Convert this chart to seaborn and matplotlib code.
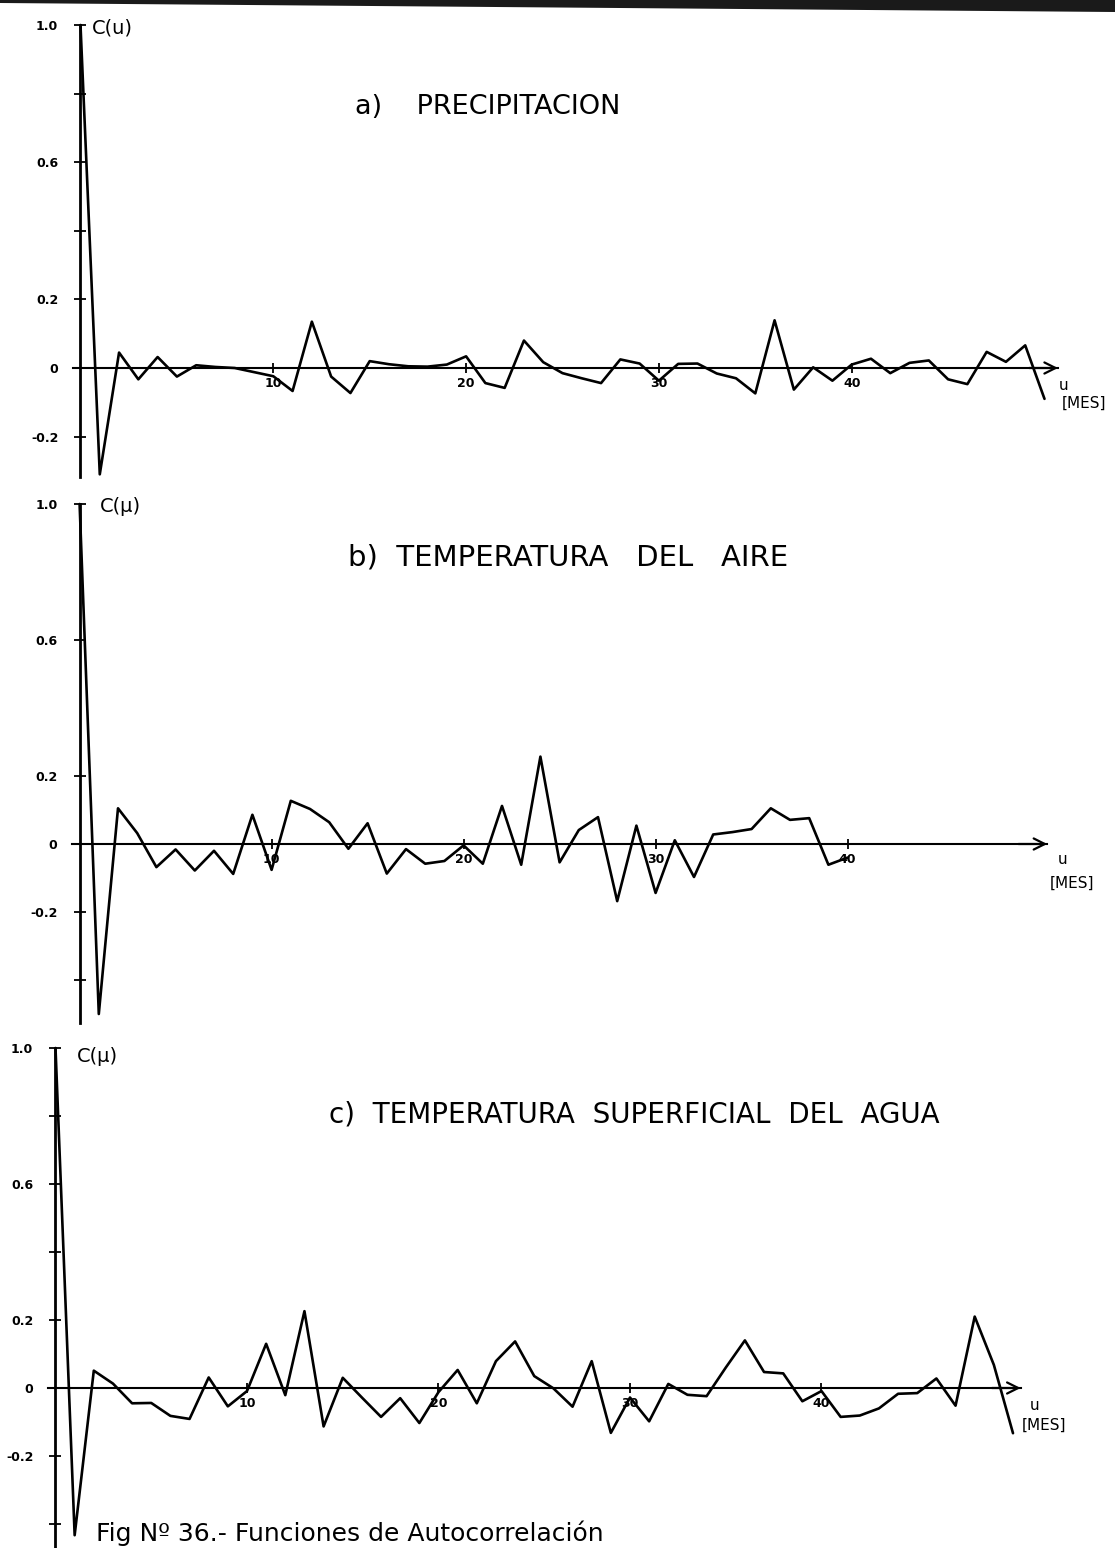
import matplotlib
matplotlib.use("Agg")
import matplotlib.pyplot as plt
from matplotlib.patches import Polygon
import seaborn as sns

# Autocorrelation C(u) by lag u (months)
lags_a = list(range(51))
precipitacion = [1.0, -0.31, 0.045, -0.033, 0.032, -0.025, 0.008, 0.003, 0.0, -0.012,
                 -0.024, -0.067, 0.135, -0.025, -0.073, 0.02, 0.011, 0.005, 0.004, 0.01,
                 0.034, -0.044, -0.058, 0.08, 0.017, -0.015, -0.03, -0.044, 0.025, 0.013,
                 -0.037, 0.012, 0.013, -0.016, -0.03, -0.074, 0.139, -0.063, 0.002, -0.037,
                 0.01, 0.027, -0.015, 0.015, 0.022, -0.033, -0.047, 0.047, 0.018, 0.066,
                 -0.09]

lags_b = list(range(41))
temp_aire = [1.0, -0.50, 0.105, 0.032, -0.068, -0.016, -0.078, -0.02, -0.088, 0.086,
             -0.076, 0.127, 0.103, 0.064, -0.014, 0.061, -0.087, -0.015, -0.058, -0.05,
             -0.004, -0.058, 0.112, -0.061, 0.257, -0.054, 0.041, 0.079, -0.168, 0.054,
             -0.144, 0.011, -0.097, 0.028, 0.035, 0.044, 0.105, 0.071, 0.076, -0.061,
             -0.04]

lags_c = list(range(51))
temp_agua = [1.0, -0.433, 0.051, 0.013, -0.045, -0.044, -0.082, -0.091, 0.031, -0.054,
             -0.009, 0.13, -0.021, 0.226, -0.113, 0.03, -0.028, -0.085, -0.03, -0.103,
             -0.012, 0.053, -0.045, 0.079, 0.137, 0.035, -0.001, -0.055, 0.079, -0.132,
             -0.028, -0.098, 0.012, -0.02, -0.024, 0.06, 0.14, 0.047, 0.043, -0.039,
             -0.009, -0.085, -0.081, -0.06, -0.017, -0.015, 0.028, -0.052, 0.21, 0.068,
             -0.133]

x_ticks = [10, 20, 30, 40]
x_tick_labels = ["10", "20", "30", "40"]

titles = ["a)    PRECIPITACION",
          "b)  TEMPERATURA   DEL   AIRE",
          "c)  TEMPERATURA  SUPERFICIAL  DEL  AGUA"]
caption = "Fig Nº 36.- Funciones de Autocorrelación"

W, H = 1115, 1548
sns.set_theme(style="white")
plt.rcParams["font.family"] = ["DejaVu Sans"]

fig = plt.figure(figsize=(W / 100, H / 100), dpi=100)
fig.patch.set_facecolor("white")

panels = [
    dict(x0=80.5, dx=19.28, z0=368, dy=343, xlim=(-4, 53.5), ylim=(-0.33, 1.05),
         low=-0.317, tip=50.7, lags=lags_a, vals=precipitacion,
         yticks=[1.0, 0.8, 0.6, 0.4, 0.2, 0, -0.2],
         ylabels=["1.0", "", "0.6", "", "0.2", "0", "-0.2"],
         title=titles[0], tpos=(14.24, 0.761), tsize=19.5,
         clab="C(u)", cpos=(0.6, 0.99),
         upos=(51.0, -0.05), mpos=(52.05, -0.102)),
    dict(x0=79.6, dx=19.2, z0=844, dy=340, xlim=(-4, 53.5), ylim=(-0.54, 1.05),
         low=-0.526, tip=50.4, lags=lags_b, vals=temp_aire,
         yticks=[1.0, 0.6, 0.2, 0, -0.2, -0.4],
         ylabels=["1.0", "0.6", "0.2", "0", "-0.2", ""],
         title=titles[1], tpos=(13.98, 0.844), tsize=21,
         clab="C(μ)", cpos=(1.06, 0.994),
         upos=(51.2, -0.047), mpos=(51.7, -0.115)),
    dict(x0=55.5, dx=19.15, z0=1388, dy=340, xlim=(-2.5, 55.5), ylim=(-0.47, 1.05),
         low=-0.47, tip=50.4, lags=lags_c, vals=temp_agua,
         yticks=[1.0, 0.8, 0.6, 0.4, 0.2, 0, -0.2, -0.4],
         ylabels=["1.0", "", "0.6", "", "0.2", "0", "-0.2", ""],
         title=titles[2], tpos=(14.28, 0.803), tsize=20,
         clab="C(μ)", cpos=(1.12, 0.974),
         upos=(51.1, -0.05), mpos=(51.6, -0.109)),
]

for p in panels:
    left = p["x0"] + p["dx"] * p["xlim"][0]
    right = p["x0"] + p["dx"] * p["xlim"][1]
    top = p["z0"] - p["dy"] * p["ylim"][1]
    bottom = p["z0"] - p["dy"] * p["ylim"][0]
    ax = fig.add_axes([left / W, 1 - bottom / H, (right - left) / W, (bottom - top) / H])
    ax.set_facecolor("none")
    ax.set_xlim(*p["xlim"])
    ax.set_ylim(*p["ylim"])

    sns.lineplot(x=p["lags"], y=p["vals"], ax=ax, color="black", linewidth=1.9,
                 estimator=None, sort=False)

    for s in ("top", "right"):
        ax.spines[s].set_visible(False)
    ax.spines["left"].set_position(("data", 0))
    ax.spines["left"].set_bounds(p["low"], 1.0)
    ax.spines["left"].set_linewidth(2.0)
    ax.spines["bottom"].set_position(("data", 0))
    ax.spines["bottom"].set_bounds(-0.4, p["tip"])
    ax.spines["bottom"].set_linewidth(1.5)
    for s in ("left", "bottom"):
        ax.spines[s].set_color("black")

    ax.set_yticks(p["yticks"], p["ylabels"])
    ax.set_xticks(x_ticks, x_tick_labels)
    ax.tick_params(axis="y", left=True, direction="inout", length=8, width=1.3,
                   pad=12, labelsize=9, colors="black")
    ax.tick_params(axis="x", bottom=True, direction="inout", length=7, width=1.3,
                   pad=3, labelsize=9, colors="black")
    for lab in ax.get_xticklabels() + ax.get_yticklabels():
        lab.set_fontweight("bold")
    ax.set_xlabel("")
    ax.set_ylabel("")

    ax.annotate("", xy=(p["tip"], 0), xytext=(p["tip"] - 1.5, 0),
                arrowprops=dict(arrowstyle="->", color="black", lw=1.6,
                                mutation_scale=20, shrinkA=0, shrinkB=0))

    ax.text(p["tpos"][0], p["tpos"][1], p["title"], ha="left", va="center",
            fontsize=p["tsize"], color="black")
    ax.text(p["cpos"][0], p["cpos"][1], p["clab"], ha="left", va="center",
            fontsize=14, color="black")
    ax.text(p["upos"][0], p["upos"][1], "u", ha="center", va="center",
            fontsize=11, color="black")
    ax.text(p["mpos"][0], p["mpos"][1], "[MES]", ha="center", va="center",
            fontsize=11, color="black")

# caption along the lower edge of the sheet
fig.text(96 / W, 1 - 1546 / H, caption, ha="left", va="bottom", fontsize=18,
         color="black")

# dark band along the top edge of the sheet
band = Polygon([[0, 1], [1, 1], [1, 1 - 12 / H], [0, 1 - 3 / H]], closed=True,
               transform=fig.transFigure, facecolor="#1a1a1a", edgecolor="none")
fig.add_artist(band)

fig.savefig("out.png", dpi=100, facecolor="white")
